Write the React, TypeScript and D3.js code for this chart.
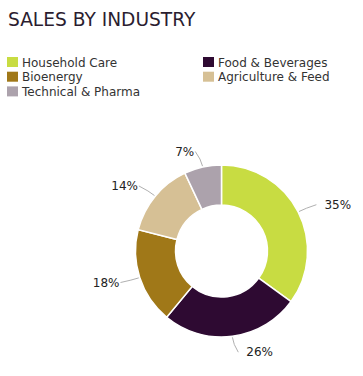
import React, { useEffect, useRef } from 'react';
import * as d3 from 'd3';

const industries = ['Household Care', 'Food & Beverages', 'Bioenergy', 'Agriculture & Feed', 'Technical & Pharma'];
const shares = [35, 26, 18, 14, 7];
const colors = ['#c8dc42', '#2e0a32', '#a07818', '#d6c095', '#aca2ac'];
// legend goes row by row, two columns
const legendOrder = [0, 1, 2, 3, 4];

const App = () => {
  const ref = useRef<SVGSVGElement>(null);

  useEffect(() => {
    const width = 363;
    const height = 376;
    const cx = 221.5;
    const cy = 251;
    const outer = 86;
    const inner = 46;

    const svg = d3.select(ref.current);
    svg.selectAll('*').remove();
    svg.attr('width', width).attr('height', height).style('font-family', '"DejaVu Sans", Verdana, sans-serif');

    svg
      .append('text')
      .attr('x', 8)
      .attr('y', 26)
      .attr('fill', '#2b1d30')
      .style('font-size', '18.6px')
      .text('SALES BY INDUSTRY');

    const legend = svg
      .selectAll('g.legend')
      .data(legendOrder)
      .enter()
      .append('g')
      .attr('class', 'legend')
      .attr('transform', (d, i) => 'translate(' + (i % 2 === 0 ? 7 : 203) + ',' + (57 + Math.floor(i / 2) * 14.7) + ')');
    legend
      .append('rect')
      .attr('width', 11)
      .attr('height', 10)
      .attr('fill', d => colors[d]);
    legend
      .append('text')
      .attr('x', 15)
      .attr('y', 9.5)
      .attr('fill', '#333')
      .style('font-size', '12px')
      .text(d => industries[d]);

    const pie = d3.pie<number>().sort(null).value(d => d);
    const arcs = pie(shares);
    const arc = d3.arc<d3.PieArcDatum<number>>().innerRadius(inner).outerRadius(outer);

    const g = svg.append('g').attr('transform', 'translate(' + cx + ',' + cy + ')');
    g.selectAll('path.slice')
      .data(arcs)
      .enter()
      .append('path')
      .attr('class', 'slice')
      .attr('d', arc)
      .attr('fill', (d, i) => colors[i])
      .attr('stroke', '#fff')
      .attr('stroke-width', 1.5);

    const polar = (a: number, r: number) => [Math.sin(a) * r, -Math.cos(a) * r];

    arcs.forEach(d => {
      const mid = (d.startAngle + d.endAngle) / 2;
      const right = Math.sin(mid) > 0;
      const p0 = polar(mid, outer + 1);
      const p1 = polar(mid, outer + 8);
      const p2 = polar(mid, outer + 16);
      const end = [p2[0] + (right ? 4 : -4), p2[1]];
      g.append('path')
        .attr('d', 'M' + p0 + 'Q' + p1 + ' ' + end)
        .attr('fill', 'none')
        .attr('stroke', '#b0b0b0')
        .attr('stroke-width', 1);
      g.append('text')
        .attr('x', end[0] + (right ? 8 : -1))
        .attr('y', end[1])
        .attr('dy', '0.35em')
        .attr('text-anchor', right ? 'start' : 'end')
        .attr('fill', '#222')
        .style('font-size', '12px')
        .text(d.data + '%');
    });
  }, []);

  return <svg ref={ref} style={{ position: 'absolute', left: 0, top: 0 }}></svg>;
};

export default App;
